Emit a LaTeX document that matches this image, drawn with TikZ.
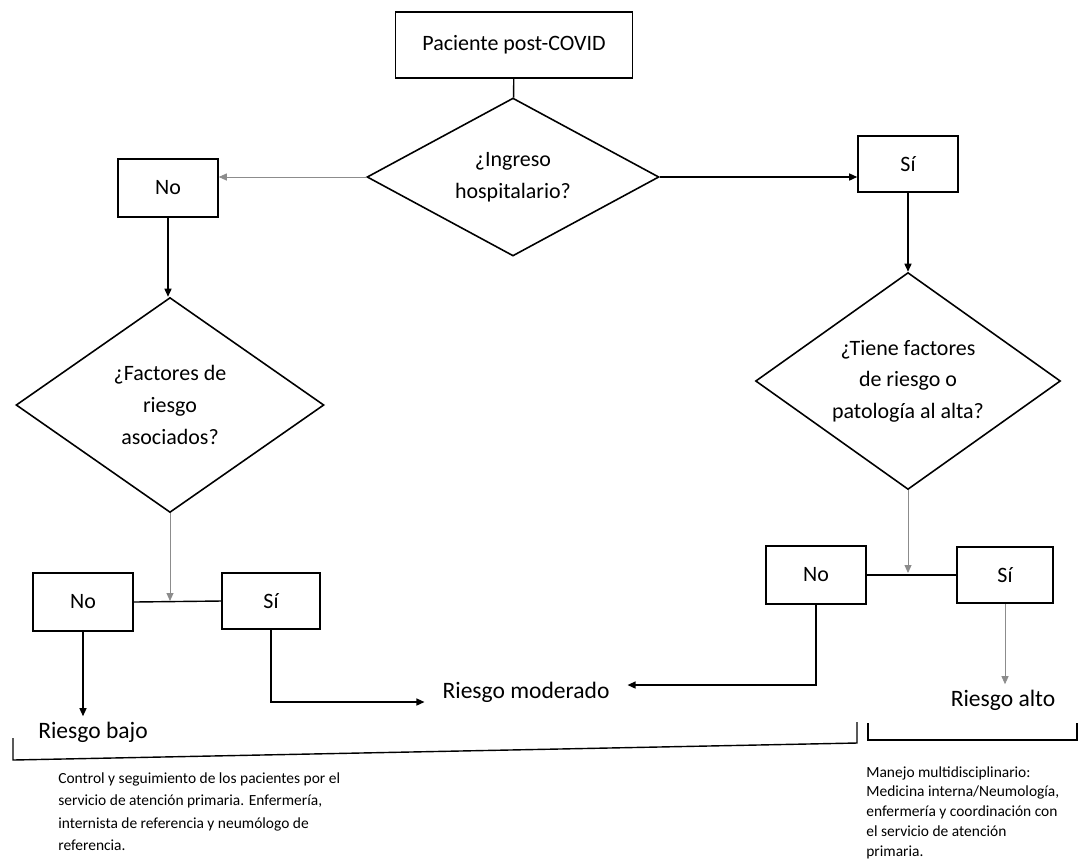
\documentclass[tikz,border=0pt]{standalone}
\usepackage{fontspec}
\setmainfont{Carlito}
\usetikzlibrary{arrows.meta,shapes.geometric}

\begin{document}
\begin{tikzpicture}[x=0.02cm,y=-0.02cm,>={Triangle[length=1.6mm,width=1.4mm]},
  box/.style={draw,line width=0.9pt,minimum width=2cm,minimum height=1.15cm,inner sep=2pt,font=\fontsize{12.5}{15}\selectfont},
  decision/.style={draw,diamond,line width=0.9pt,aspect=1.4,inner sep=0pt,align=center,font=\fontsize{12.5}{18}\selectfont},
  outcome/.style={inner sep=3pt,font=\fontsize{13.4}{16}\selectfont},
  note/.style={inner sep=0pt,align=left,font=\fontsize{8.8}{#1}\selectfont},
  link/.style={line width=0.8pt},
  faint/.style={line width=0.5pt,draw=black!45}]
\useasboundingbox (0,0) rectangle (1081,867);

% top of the chart
\node[box,minimum width=4.74cm,minimum height=1.32cm] (pac) at (514,45) {Paciente post-COVID};
\node[decision,minimum width=5.84cm,minimum height=3.16cm] (ing) at (513,177) {¿Ingreso\\hospitalario?};
\node[box] (no1) at (168,188) {No};
\node[box,minimum height=1.12cm] (si1) at (908,164) {Sí};

% second level questions
\node[decision,minimum width=6.16cm,minimum height=4.3cm] (fac) at (170,405) {¿Factores de\\riesgo\\asociados?};
\node[decision,minimum width=6.1cm,minimum height=4.34cm] (tie) at (908,381) {¿Tiene factores\\de riesgo o\\patología al alta?};

% answers
\node[box] (no2) at (83,602) {No};
\node[box,minimum width=1.96cm,minimum height=1.12cm] (si2) at (271,601) {Sí};
\node[box] (no3) at (816,575) {No};
\node[box,minimum width=1.92cm,minimum height=1.12cm] (si3) at (1005,575) {Sí};
\coordinate (j1) at (170,601);
\coordinate (j2) at (908,573);

% risk levels
\node[outcome] (bajo) at (93,732) {Riesgo bajo};
\node[outcome] (mod) at (526,692) {Riesgo moderado};
\node[outcome] (alto) at (1003,700) {Riesgo alto};

\draw[link] (pac) -- (ing);
\draw[faint,->] (ing.west) -- (no1.east |- ing.west);
\draw[link,->] (ing.east) -- (si1.west |- ing.east);
\draw[link,->] (no1.south) -- (no1.south |- fac.north);
\draw[link,->] (si1.south) -- (si1.south |- tie.north);
\draw[faint,->] (fac.south) -- (j1);
\draw[link] (no2.east) -- (si2.west);
\draw[faint,->] (tie.south) -- (j2);
\draw[link] (no3.east) -- (si3.west);
\draw[link,->] (no2.south) -- (no2.south |- bajo.north);
\draw[link,->] (si2.south) |- ([xshift=-0.25cm,yshift=-0.2cm]mod.west);
\draw[link,->] (no3.south) |- ([xshift=0.25cm,yshift=0.14cm]mod.east);
\draw[faint,->] (si3.south) -- (si3.south |- alto.north);

% brackets and notes
\coordinate (bl1) at (13,738);
\coordinate (bl2) at (13,760);
\coordinate (bl3) at (857,743);
\coordinate (bl4) at (857,722);
\coordinate (br1) at (868,723);
\coordinate (br2) at (868,740);
\coordinate (br3) at (1077,740);
\coordinate (br4) at (1077,723);
\draw[link] (bl1) -- (bl2) -- (bl3) -- (bl4);
\draw[link] (br1) -- (br2) -- (br3) -- (br4);

\node[note=12.8pt,anchor=north west] (ctrl) at (58,772) {Control y seguimiento de los pacientes por el\\servicio de atención primaria. Enfermería,\\internista de referencia y neumólogo de\\referencia.};
\node[note=11.3pt,anchor=north west] (manejo) at (866,766) {Manejo multidisciplinario:\\Medicina interna/Neumología,\\enfermería y coordinación con\\el servicio de atención\\primaria.};
\end{tikzpicture}
\end{document}
